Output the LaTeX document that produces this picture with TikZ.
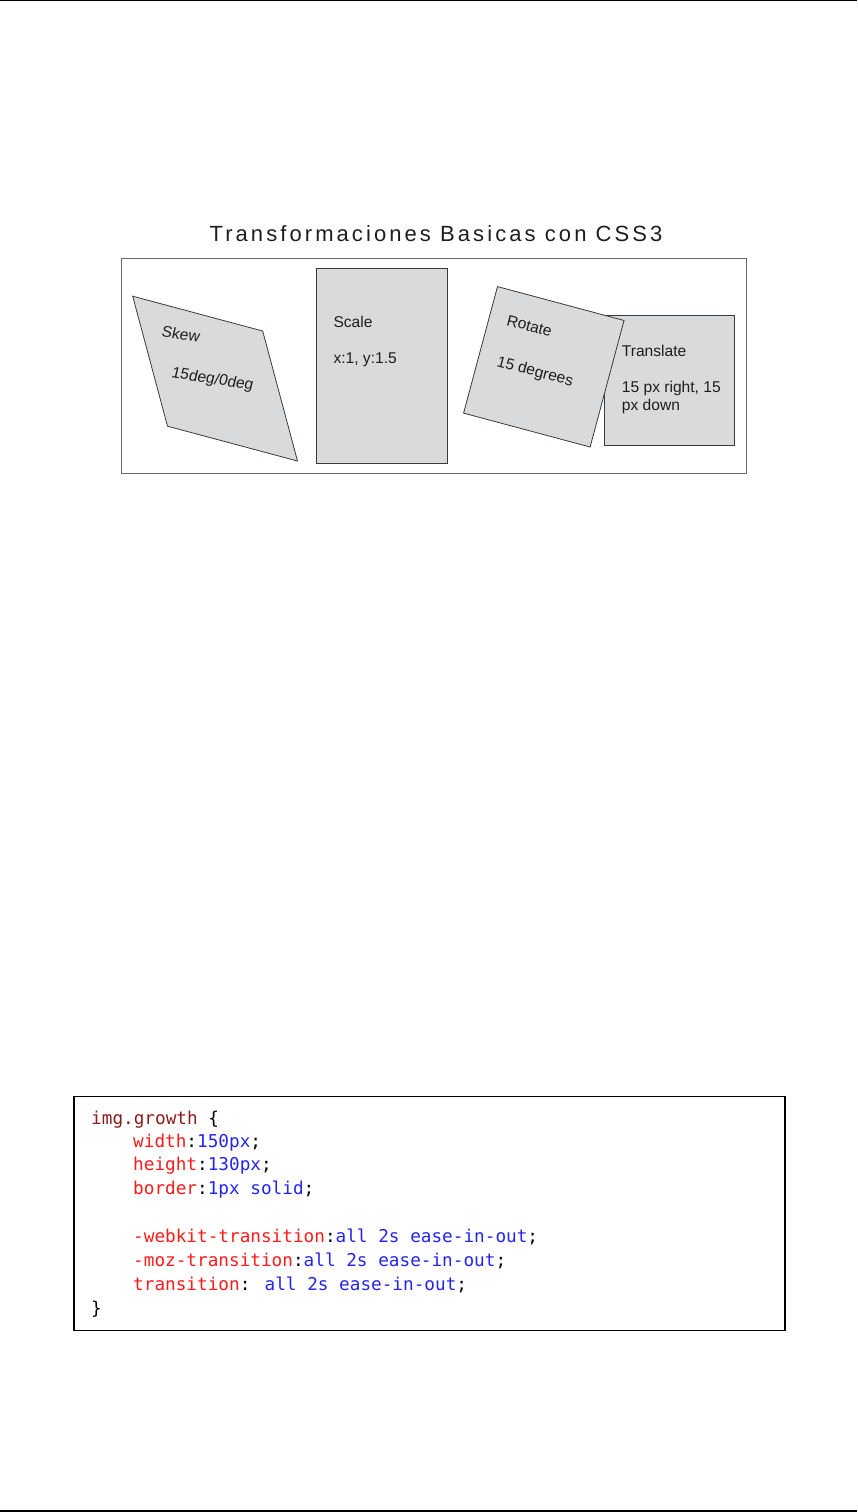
\documentclass[tikz,border=0pt]{standalone}
\usepackage{fontspec}
\setmainfont{Liberation Sans}
\newfontfamily\codefont{DejaVu Sans Mono}
\newfontfamily\titlefont[LetterSpace=14]{Liberation Sans}
\definecolor{boxfill}{HTML}{D9DADC}
\definecolor{edge}{HTML}{3A3A3A}
\definecolor{frame}{HTML}{6A6A6A}
\definecolor{txt}{HTML}{1E1E1E}
\definecolor{sel}{HTML}{8B1C1C}
\definecolor{prop}{HTML}{FF1A1A}
\definecolor{val}{HTML}{2424F0}
\tikzset{
  shapebox/.style={fill=boxfill, draw=edge, line width=0.8pt},
  lbl/.style={anchor=base west, inner sep=0pt, font=\fontsize{15.6}{18}\selectfont, text=txt},
  codeline/.style={anchor=base west, inner sep=0pt, font=\codefont\fontsize{17.7}{20}\selectfont, text=black},
  rule/.style={line width=1.5pt, draw=black}
}
\begin{document}
\begin{tikzpicture}[x=1pt,y=-1pt]
\useasboundingbox (0,0) rectangle (857,1512);
% page rules
\coordinate (tl) at (0,0.75);
\coordinate (tr) at (857,0.75);
\coordinate (bl) at (0,1511.2);
\coordinate (br) at (857,1511.2);
\draw[rule] (tl) -- (tr);
\draw[rule] (bl) -- (br);
% title
\node[anchor=base, inner sep=0pt, text=txt, font=\titlefont\fontsize{22}{26}\selectfont] (title) at (436,241) {Transformaciones Basicas con CSS3};
% frame
\draw[draw=frame, line width=0.8pt] (121.5,258) rectangle (746,473.5);
% skew
\begin{scope}[cm={1,-0.2679,-0.2679,1,(215.1,378.6)}]
  \draw[shapebox] (-65,-65) rectangle (65,65);
\end{scope}
\node[lbl, rotate=-8, xslant=0.08] (skewA) at (160.7,336.7) {Skew};
\node[lbl, rotate=-9, xslant=0.08] (skewB) at (170.7,377.3) {15deg/0deg};
% scale
\draw[shapebox] (316,268.3) rectangle (447.7,463.3);
\node[lbl] (scaleA) at (333.3,327.7) {Scale};
\node[lbl] (scaleB) at (333.3,363.5) {x:1, y:1.5};
% translate
\draw[shapebox] (604,315.7) rectangle (734.3,445.7);
\node[lbl] (transA) at (621.7,356) {Translate};
\node[lbl] (transB) at (621.7,392.8) {15 px right, 15};
\node[lbl] (transC) at (621.7,410) {px down};
% rotate
\begin{scope}[shift={(543.8,366.8)}, rotate=-15]
  \draw[shapebox] (-65.5,-65.5) rectangle (65.5,65.5);
  \node[lbl, transform shape] (rotA) at (-47.6,-30.5) {Rotate};
  \node[lbl, transform shape] (rotB) at (-46.4,11.6) {15 degrees};
\end{scope}
% code box
\draw[draw=black, line width=1.3pt] (74,1096.7) rectangle (785,1330.5);
\node[codeline] (c0) at (91,1124) {\textcolor{sel}{img.growth} \{};
\node[codeline] (c1) at (133,1147.3) {\textcolor{prop}{width}:\textcolor{val}{150px};};
\node[codeline] (c2) at (133,1170.6) {\textcolor{prop}{height}:\textcolor{val}{130px};};
\node[codeline] (c3) at (133,1194) {\textcolor{prop}{border}:\textcolor{val}{1px solid};};
\node[codeline] (c5) at (133,1242.5) {\textcolor{prop}{-webkit-transition}:\textcolor{val}{all 2s ease-in-out};};
\node[codeline] (c6) at (133,1266.5) {\textcolor{prop}{-moz-transition}:\textcolor{val}{all 2s ease-in-out};};
\node[codeline] (c7) at (133,1290.5) {\textcolor{prop}{transition}: \textcolor{val}{all 2s ease-in-out};};
\node[codeline] (c8) at (91,1314) {\}};
\end{tikzpicture}
\end{document}
